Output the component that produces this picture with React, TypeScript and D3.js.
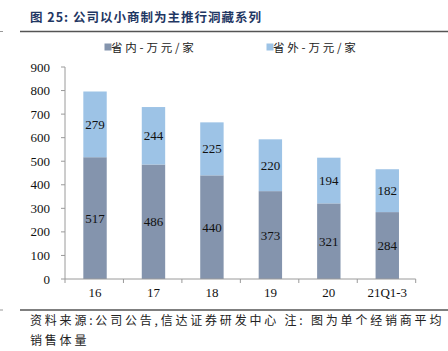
import React from "react";
import * as d3 from "d3";

const categories = ["16", "17", "18", "19", "20", "21Q1-3"];
const inProvince = [517, 486, 440, 373, 321, 284];
const outProvince = [279, 244, 225, 220, 194, 182];
const seriesNames = ["省内-万元/家", "省外-万元/家"];
const yTicks = [0, 100, 200, 300, 400, 500, 600, 700, 800, 900];
const title = "图 25: 公司以小商制为主推行洞藏系列";
const footLine1 = "资料来源:公司公告,信达证券研发中心  注: 图为单个经销商平均";
const footLine2 = "销售体量";

const colors = ["#8494ad", "#9dc3e6"];
const serif = "'Liberation Serif', 'Times New Roman', serif";

export default function App() {
  const W = 448, H = 351;
  const x0 = 65, x1 = 415.7, yTop = 67, yBot = 279;
  const x = d3.scaleBand<string>().domain(categories).range([x0, x1]).paddingInner(0).paddingOuter(0);
  const y = d3.scaleLinear().domain([0, 900]).range([yBot, yTop]);
  const bw = 23.4;
  const axisColor = "#9a9a9a";

  const stacked = categories.map((c, i) => {
    const a = inProvince[i], b = outProvince[i];
    return [
      { c, lo: 0, hi: a, v: a, color: colors[0] },
      { c, lo: a, hi: a + b, v: b, color: colors[1] },
    ];
  });

  return (
    <svg width={W} height={H} style={{ position: "absolute", left: 0, top: 0, background: "#fff" }}>
      <text x={30} y={22} fontFamily="'Noto Sans CJK SC', sans-serif" fontWeight="bold" fontSize={12.5} fill="#1f3763" letterSpacing={1}>
        {title}
      </text>
      <line x1={0} x2={3} y1={31.5} y2={31.5} stroke="#999" strokeWidth={1} />
      <line x1={20} x2={448} y1={31.5} y2={31.5} stroke="#555" strokeWidth={1.3} />

      {seriesNames.map((n, i) => {
        const lx = i === 0 ? 104.5 : 266.5;
        return (
          <g key={n}>
            <rect x={lx} y={43.5} width={7} height={7} fill={colors[i]} />
            <text x={lx + 6.5} y={51.5} fontFamily="'Noto Sans CJK SC', sans-serif" fontSize={11.5} fill="#222" letterSpacing={2.8}>
              {n}
            </text>
          </g>
        );
      })}

      {stacked.map((segs) =>
        segs.map((s, j) => {
          const bx = (x(s.c) as number) + x.bandwidth() / 2 - bw / 2 + 0.8;
          return (
            <g key={s.c + j}>
              <rect x={bx} y={y(s.hi)} width={bw} height={y(s.lo) - y(s.hi)} fill={s.color} />
              <text x={bx + bw / 2} y={(y(s.lo) + y(s.hi)) / 2 + 4.5} textAnchor="middle" fontFamily={serif} fontSize={13} fill="#111">
                {s.v}
              </text>
            </g>
          );
        })
      )}

      <line x1={x0} x2={x0} y1={yTop} y2={yBot} stroke={axisColor} strokeWidth={1} />
      <line x1={x0} x2={x1} y1={yBot} y2={yBot} stroke={axisColor} strokeWidth={1} />
      {yTicks.map((t) => (
        <g key={t}>
          <line x1={x0 - 4} x2={x0} y1={y(t)} y2={y(t)} stroke={axisColor} />
          <text x={50} y={y(t) + 4.5} textAnchor="end" fontFamily={serif} fontSize={13} fill="#111">
            {t}
          </text>
        </g>
      ))}
      {categories.map((c) => (
        <line key={"t" + c} x1={(x(c) as number) + x.bandwidth()} x2={(x(c) as number) + x.bandwidth()} y1={yBot} y2={yBot + 4} stroke={axisColor} />
      ))}
      <line x1={x0} x2={x0} y1={yBot} y2={yBot + 4} stroke={axisColor} />
      {categories.map((c) => (
        <text key={"l" + c} x={(x(c) as number) + x.bandwidth() / 2 + 0.8} y={297} textAnchor="middle" fontFamily={serif} fontSize={13} fill="#111">
          {c}
        </text>
      ))}

      <line x1={0} x2={3} y1={310} y2={310} stroke="#999" strokeWidth={1} />
      <line x1={20} x2={448} y1={310} y2={310} stroke="#555" strokeWidth={1.3} />
      <text x={30} y={325} fontFamily="'Noto Sans CJK SC', sans-serif" fontSize={12} fill="#222" letterSpacing={2.8}>
        {footLine1}
      </text>
      <text x={30} y={345} fontFamily="'Noto Sans CJK SC', sans-serif" fontSize={12} fill="#222" letterSpacing={2.8}>
        {footLine2}
      </text>
    </svg>
  );
}
